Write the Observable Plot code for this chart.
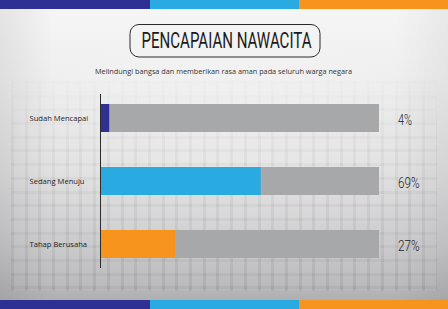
<!DOCTYPE html>
<html>
<head>
<meta charset="utf-8">
<script src="https://cdn.jsdelivr.net/npm/d3@7"></script>
<script src="https://cdn.jsdelivr.net/npm/@observablehq/plot@0.6"></script>
<style>
  html, body { margin: 0; padding: 0; }
  body { width: 448px; height: 309px; overflow: hidden; }
  #wrap { position: relative; width: 448px; height: 309px; overflow: hidden;
    background: linear-gradient(180deg, #f6f6f6 0%, #efefef 25%, #dfdfe0 55%, #c8c8ca 80%, #b0b0b2 97%); }
  #shade { position: absolute; left: 0; top: 0; width: 448px; height: 309px;
    background: radial-gradient(ellipse 70% 60% at 50% 45%, rgba(255,255,255,0.25), rgba(255,255,255,0) 70%),
                linear-gradient(90deg, rgba(0,0,0,0.07) 0%, rgba(0,0,0,0) 12%, rgba(0,0,0,0) 88%, rgba(0,0,0,0.05) 100%); }
  #grid { position: absolute; left: 11px; top: 81px; width: 426px; height: 210px;
    background-image:
      repeating-linear-gradient(90deg, rgba(0,0,0,0.045) 0px, rgba(0,0,0,0.045) 3px, rgba(255,255,255,0.06) 3px, rgba(255,255,255,0.06) 13.7px),
      repeating-linear-gradient(180deg, rgba(0,0,0,0.045) 0px, rgba(0,0,0,0.045) 3px, rgba(255,255,255,0) 3px, rgba(255,255,255,0) 13.7px);
    -webkit-mask-image: linear-gradient(180deg, rgba(0,0,0,0.2) 0%, rgba(0,0,0,0.85) 45%, rgba(0,0,0,1) 100%);
    mask-image: linear-gradient(180deg, rgba(0,0,0,0.2) 0%, rgba(0,0,0,0.85) 45%, rgba(0,0,0,1) 100%); }
  .stripe { position: absolute; left: 0; width: 448px; height: 9px; display: flex; }
  .stripe div { height: 100%; }
  #top { top: 0; }
  #bottom { top: 300px; }
  #chart { position: absolute; left: 0; top: 0; }
  #title { position: absolute; left: 0; top: 0; }
</style>
</head>
<body>
<div id="wrap">
  <div id="shade"></div>
  <div id="grid"></div>
  <div class="stripe" id="top"></div>
  <div class="stripe" id="bottom"></div>
  <div id="chart"></div>
  <svg id="title" width="448" height="90" xmlns="http://www.w3.org/2000/svg">
    <rect x="130" y="24.5" width="190" height="32.5" rx="9" ry="9" fill="none" stroke="#2a2a2a" stroke-width="1"/>
    <text id="t1" x="141.5" y="47.7" font-family="Roboto, 'Liberation Sans', sans-serif" font-size="22.5" font-weight="400" fill="#1a1a1a" textLength="170" lengthAdjust="spacingAndGlyphs"></text>
    <text id="t2" x="95" y="73.5" font-family="'Open Sans',sans-serif" font-size="7.2" fill="#333" textLength="257" lengthAdjust="spacingAndGlyphs"></text>
  </svg>
</div>
<script>
// ---- data ----
const categories = ["Sudah Mencapai", "Sedang Menuju", "Tahap Berusaha"];
const barLengths = [3.3, 57.6, 26.9];          // bar lengths as drawn (% of track)
const percentLabels = ["4%", "69%", "27%"];    // printed labels
const trackLength = [100, 100, 100];
const barColors = ["#2e3192", "#29abe2", "#f7941d"];
const stripeColors = ["#2e3192", "#29abe2", "#f7941d"];
const titleText = "PENCAPAIAN NAWACITA";
const subtitleText = "Melindungi bangsa dan memberikan rasa aman pada seluruh warga negara";

// stripes
for (const id of ["top", "bottom"]) {
  const el = document.getElementById(id);
  stripeColors.forEach((c, i) => {
    const d = document.createElement("div");
    d.style.background = c;
    d.style.width = (i === 2 ? 149 : 149.5) + "px";
    d.style.flex = i === 2 ? "1" : "none";
    el.appendChild(d);
  });
}
document.getElementById("t1").textContent = titleText;
document.getElementById("t2").textContent = subtitleText;

const rows = categories.map((c, i) => ({
  category: c, value: barLengths[i], label: percentLabels[i], track: trackLength[i], color: barColors[i]
}));

const chart = Plot.plot({
  width: 448,
  height: 309,
  marginTop: 86.5,
  marginBottom: 33.5,
  marginLeft: 100,
  marginRight: 69,
  style: { background: "transparent", overflow: "visible" },
  x: { domain: [0, 100], axis: null },
  y: { domain: categories, axis: null, paddingInner: 0.556, paddingOuter: 0.278 },
  marks: [
    Plot.barX(rows, { x: "track", y: "category", fill: "#a7a8aa" }),
    Plot.barX(rows, { x: "value", y: "category", fill: "color" }),
    Plot.ruleX([0], { stroke: "#2b2b2b", strokeWidth: 1, insetTop: 7.5, insetBottom: 7.5 }),
    Plot.text(rows, { y: "category", text: "category", frameAnchor: "left", dx: -71, textAnchor: "start",
      fontFamily: "'Open Sans', sans-serif", fontSize: 7.6, fill: "#222" }),
    Plot.text(rows, { y: "category", text: "label", frameAnchor: "right", dx: 18.5, dy: 1.7, textAnchor: "start",
      fontFamily: "Roboto, 'Liberation Sans', sans-serif", fontSize: 15, fontWeight: 300, fill: "#1a1a1a" })
  ]
});
document.getElementById("chart").appendChild(chart);

// condense the percent labels like the reference's narrow face
const textGroups = chart.querySelectorAll('g[aria-label="text"]');
const pctGroup = textGroups[textGroups.length - 1];
pctGroup.querySelectorAll("text").forEach(t => {
  const s = t.textContent;
  t.setAttribute("textLength", s.length === 2 ? 14 : 21.5);
  t.setAttribute("lengthAdjust", "spacingAndGlyphs");
});
</script>
</body>
</html>
